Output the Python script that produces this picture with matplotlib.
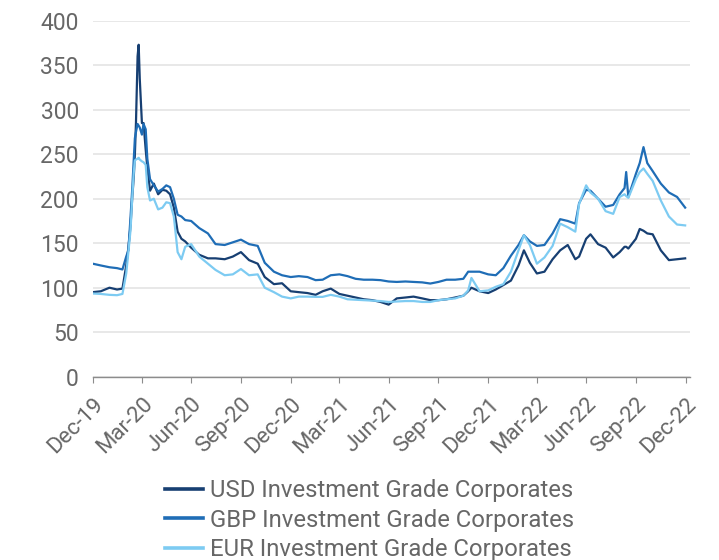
import matplotlib
matplotlib.use("Agg")
import matplotlib.pyplot as plt
import matplotlib.dates as mdates
import pandas as pd

plt.rcParams['font.family'] = ['Roboto', 'DejaVu Sans']

# observation dates
dates = [
    "2019-12-31", "2020-01-15", "2020-01-31", "2020-02-14", "2020-02-24",
    "2020-03-02", "2020-03-06", "2020-03-10", "2020-03-13", "2020-03-16",
    "2020-03-18", "2020-03-20", "2020-03-23", "2020-03-25", "2020-03-27",
    "2020-03-31", "2020-04-03", "2020-04-07", "2020-04-10", "2020-04-15",
    "2020-04-22", "2020-04-30", "2020-05-08", "2020-05-15", "2020-05-22",
    "2020-05-29", "2020-06-05", "2020-06-12", "2020-06-19", "2020-06-30",
    "2020-07-15", "2020-07-31", "2020-08-14", "2020-08-31", "2020-09-15",
    "2020-09-30", "2020-10-15", "2020-10-31", "2020-11-13", "2020-11-30",
    "2020-12-15", "2020-12-31", "2021-01-15", "2021-01-31", "2021-02-15",
    "2021-02-28", "2021-03-15", "2021-03-31", "2021-04-15", "2021-04-30",
    "2021-05-15", "2021-05-31", "2021-06-15", "2021-06-30", "2021-07-15",
    "2021-07-31", "2021-08-15", "2021-08-31", "2021-09-15", "2021-09-30",
    "2021-10-15", "2021-10-31", "2021-11-15", "2021-11-24", "2021-11-30",
    "2021-12-15", "2021-12-31", "2022-01-14", "2022-01-28", "2022-02-11",
    "2022-02-25", "2022-03-07", "2022-03-18", "2022-03-31", "2022-04-14",
    "2022-04-29", "2022-05-13", "2022-05-27", "2022-06-10", "2022-06-17",
    "2022-06-30", "2022-07-08", "2022-07-22", "2022-08-05", "2022-08-19",
    "2022-08-31", "2022-09-09", "2022-09-12", "2022-09-16", "2022-09-30",
    "2022-10-07", "2022-10-14", "2022-10-21", "2022-10-31", "2022-11-15",
    "2022-11-30", "2022-12-15", "2022-12-30",
]

usd = [
    95, 96, 100, 98, 99,
    125, 145, 170, 200, 225,
    250, 285, 360, 373, 335,
    285, 285, 255, 235, 209,
    217, 205, 210, 209, 205,
    190, 163, 155, 152, 145,
    137, 133, 133, 132, 135,
    140, 131, 127, 112, 104,
    105, 96, 95, 94, 92,
    96, 99, 93, 91, 89,
    87, 86, 84, 81, 88,
    89, 90, 88, 86, 86,
    87, 89, 91, 96, 100,
    96, 94, 98, 103, 108,
    125, 142, 128, 116, 118,
    132, 142, 148, 132, 135,
    155, 160, 149, 145, 134,
    140, 146, 146, 144, 155,
    166, 164, 161, 160, 142,
    131, 132, 133,
]

gbp = [
    127, 125, 123, 122, 120.5,
    135, 142, 180, 210, 245,
    268, 275, 284, 282, 280,
    272, 284, 278, 245, 222,
    215, 208, 211, 215, 213,
    200, 182, 180, 176, 175,
    167, 161, 149, 148, 151,
    154, 149, 147, 128, 118,
    114, 112, 113, 112, 108.5,
    109, 114, 115, 113, 110,
    109, 109, 108.5, 107, 106.5,
    107, 106.5, 106, 104.7, 106.5,
    109, 109, 110, 118, 118,
    118, 115, 114, 122, 136,
    148, 159, 152, 147, 148,
    161, 177, 175, 172, 195,
    210, 209, 200, 191, 193,
    205, 212, 230, 202, 228,
    240, 258, 240, 231, 217,
    207, 202, 190,
]

eur = [
    93.5, 93, 92, 91.6, 93,
    116, 140, 165, 200, 230,
    243, 244, 245, 246, 244,
    242, 241, 238, 213, 198,
    200, 188, 190, 196, 195,
    180, 140, 132, 146, 149,
    135, 127, 120, 114, 115,
    121, 114, 115, 100, 95,
    90, 88, 90, 90, 89.7,
    89.7, 92, 90, 87, 86.5,
    86, 85.5, 85, 84, 84.5,
    85, 85, 84, 84, 86,
    87, 88, 91, 97, 111,
    96, 97, 101, 104, 118,
    142, 159, 148, 127, 134,
    147, 172, 168, 163, 194,
    215, 207, 200, 186, 183,
    202, 205, 203, 201, 222,
    230, 234, 228, 220, 198,
    180, 171, 170,
]

labels = ["USD Investment Grade Corporates",
          "GBP Investment Grade Corporates",
          "EUR Investment Grade Corporates"]
colors = ["#173f72", "#1f6db6", "#7dcbf2"]

x = pd.to_datetime(dates)

fig = plt.figure(figsize=(7.19, 5.60), dpi=100)
ax = fig.add_axes([0.1289, 0.3273, 0.8308, 0.6357])

for series, lab, col in zip([usd, gbp, eur], labels, colors):
    ax.plot(x, series, color=col, lw=1.6, label=lab)

ax.set_ylim(0, 400)
ax.set_yticks(range(0, 401, 50))
ax.set_xlim(pd.Timestamp("2019-12-31"), pd.Timestamp("2023-01-08"))

ticks = pd.date_range("2019-12-31", "2022-12-31", freq="QE")
ax.set_xticks(ticks)
ax.xaxis.set_major_formatter(mdates.DateFormatter("%b-%y"))

ax.grid(axis='y', color='#e4e4e4', lw=1.2)
ax.set_axisbelow(True)
for s in ['left', 'right', 'top']:
    ax.spines[s].set_visible(False)
ax.spines['bottom'].set_color('#8c8c8c')
ax.spines['bottom'].set_linewidth(1.0)

txt_col = '#676767'
ax.tick_params(axis='y', length=0, pad=10, labelsize=16.5, labelcolor=txt_col)
ax.tick_params(axis='x', length=4, color='#8c8c8c', pad=8,
               labelsize=16, labelcolor=txt_col)
for t in ax.get_xticklabels():
    t.set_rotation(45)
    t.set_ha('right')
    t.set_va('top')
    t.set_rotation_mode('anchor')

leg = fig.legend(loc='upper left', bbox_to_anchor=(165 / 719, 1 - 479 / 560),
                 frameon=False, fontsize=17.2, labelspacing=0.28,
                 handlelength=1.6, handletextpad=0.3, borderpad=0,
                 borderaxespad=0)
for t in leg.get_texts():
    t.set_color(txt_col)
for h in leg.get_lines():
    h.set_linewidth(2.6)

fig.savefig("out.png", dpi=100)
